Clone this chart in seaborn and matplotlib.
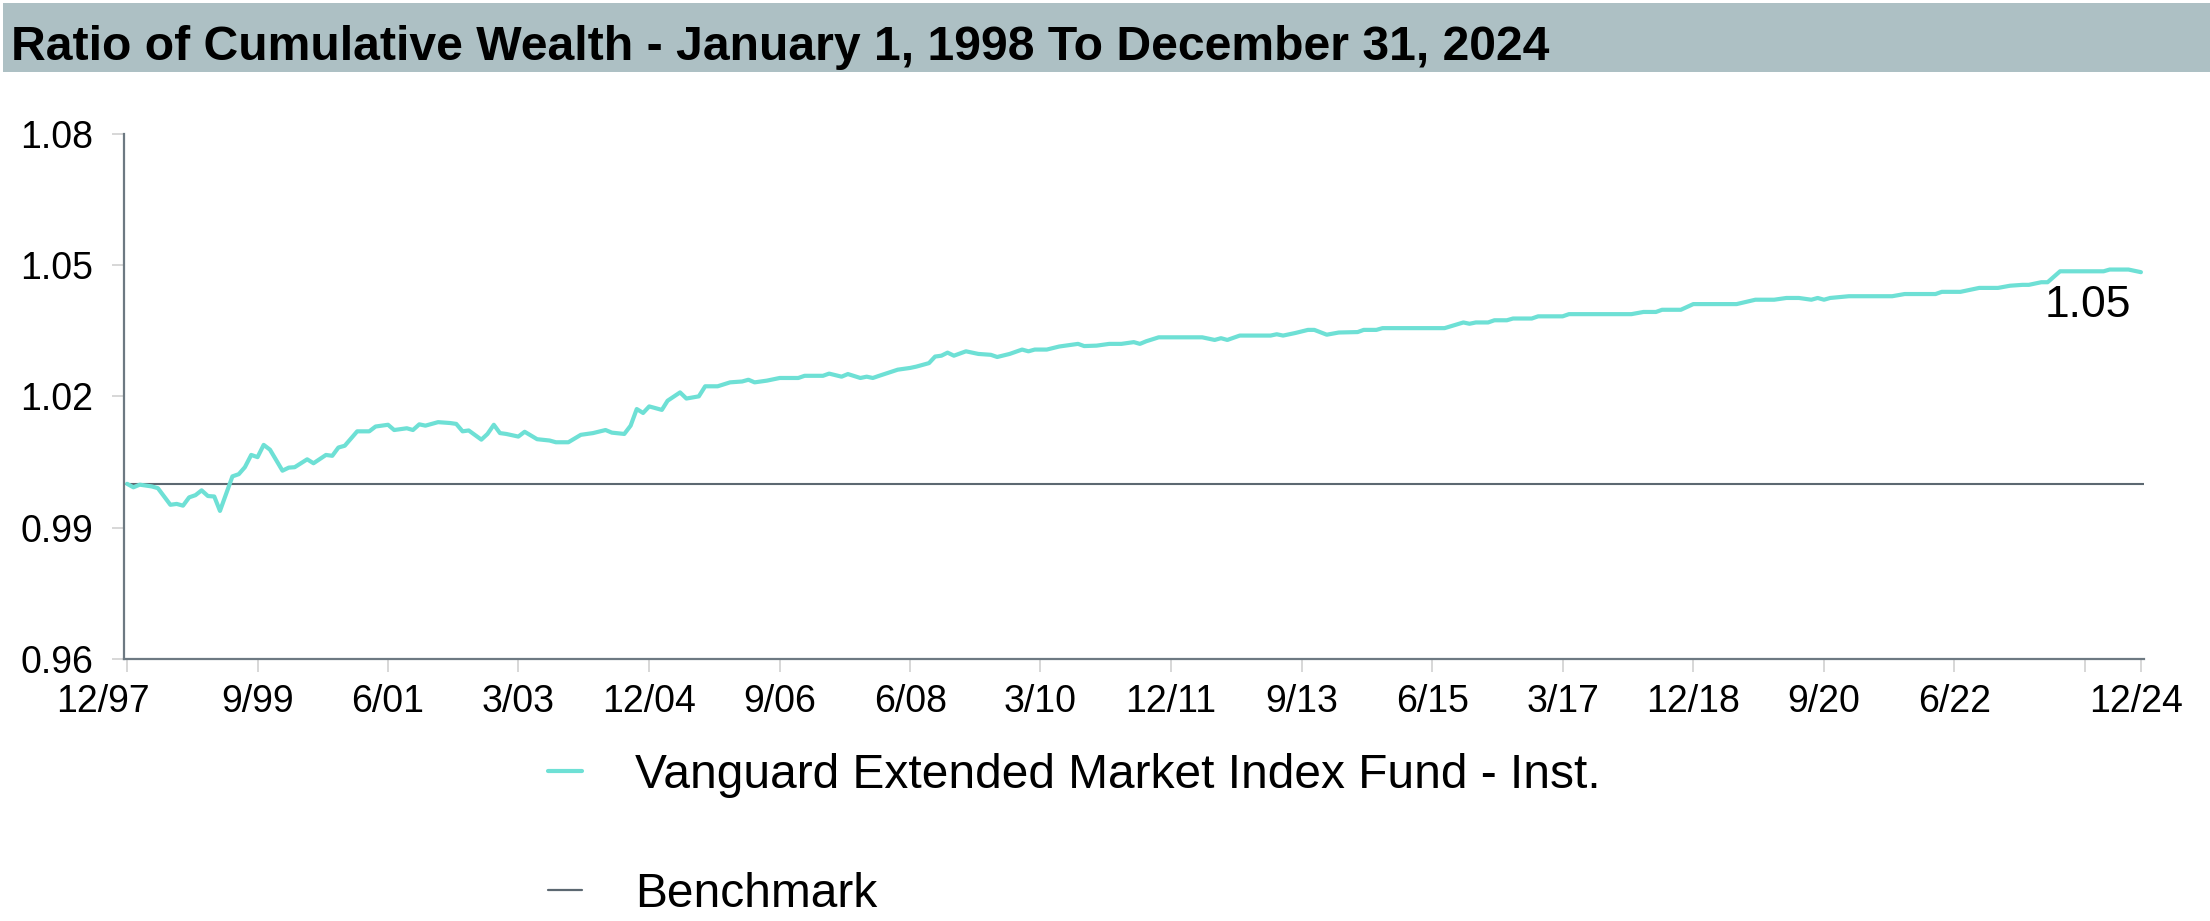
import matplotlib
matplotlib.use("Agg")
import matplotlib.pyplot as plt
from matplotlib.lines import Line2D
from matplotlib.patches import Rectangle
from matplotlib.transforms import ScaledTranslation
import pandas as pd
import seaborn as sns

# Ratio of fund cumulative wealth to benchmark cumulative wealth,
# sampled at month offsets counted from December 1997.
MONTH_OFFSET = [
    0, 1, 2, 4, 5, 7, 8, 9, 10, 11, 12, 13, 14, 15, 17, 18, 19, 20, 21, 22,
    23, 25, 26, 27, 29, 30, 32, 33, 34, 35, 37, 39, 40, 42, 43, 45, 46, 47, 48, 50,
    52, 53, 54, 55, 57, 58, 59, 60, 61, 63, 64, 66, 68, 69, 71, 73, 75, 77, 78, 80,
    81, 82, 83, 84, 86, 87, 89, 90, 92, 93, 95, 97, 99, 100, 101, 103, 105, 108, 109, 112,
    113, 115, 116, 118, 119, 120, 121, 124, 126, 127, 129, 130, 131, 132, 133, 135, 137, 139, 140, 142,
    144, 145, 146, 148, 150, 152, 153, 154, 156, 158, 160, 162, 163, 164, 166, 173, 175, 176, 177, 179,
    184, 185, 186, 188, 190, 191, 193, 195, 198, 199, 201, 202, 212, 215, 216, 217, 219, 220, 222, 223,
    226, 227, 231, 232, 242, 244, 246, 247, 250, 252, 259, 262, 265, 267, 269, 271, 272, 273, 274, 277,
    284, 286, 291, 292, 295, 298, 301, 303, 305, 306, 308, 309, 311, 318, 319, 322, 324,
]
FUND_RATIO = [
    1.0000, 0.9992, 0.9998, 0.9994, 0.9990, 0.9952, 0.9954, 0.9950, 0.9969, 0.9974,
    0.9985, 0.9972, 0.9971, 0.9938, 1.0017, 1.0022, 1.0038, 1.0066, 1.0061, 1.0089,
    1.0078, 1.0030, 1.0037, 1.0038, 1.0056, 1.0047, 1.0066, 1.0064, 1.0083, 1.0087,
    1.0120, 1.0120, 1.0131, 1.0135, 1.0123, 1.0127, 1.0123, 1.0136, 1.0133, 1.0141,
    1.0139, 1.0137, 1.0120, 1.0122, 1.0101, 1.0114, 1.0135, 1.0116, 1.0114, 1.0108,
    1.0119, 1.0102, 1.0099, 1.0095, 1.0095, 1.0112, 1.0116, 1.0123, 1.0117, 1.0114,
    1.0133, 1.0171, 1.0162, 1.0177, 1.0169, 1.0190, 1.0209, 1.0195, 1.0200, 1.0223,
    1.0223, 1.0232, 1.0234, 1.0238, 1.0232, 1.0236, 1.0242, 1.0242, 1.0247, 1.0247,
    1.0252, 1.0245, 1.0251, 1.0242, 1.0245, 1.0242, 1.0247, 1.0261, 1.0265, 1.0268,
    1.0276, 1.0291, 1.0293, 1.0300, 1.0293, 1.0303, 1.0297, 1.0295, 1.0290, 1.0297,
    1.0307, 1.0303, 1.0307, 1.0307, 1.0314, 1.0318, 1.0320, 1.0315, 1.0316, 1.0320,
    1.0320, 1.0324, 1.0320, 1.0326, 1.0335, 1.0335, 1.0329, 1.0333, 1.0329, 1.0339,
    1.0339, 1.0342, 1.0339, 1.0345, 1.0352, 1.0352, 1.0341, 1.0346, 1.0347, 1.0352,
    1.0352, 1.0356, 1.0356, 1.0369, 1.0366, 1.0369, 1.0369, 1.0374, 1.0374, 1.0378,
    1.0378, 1.0383, 1.0383, 1.0388, 1.0388, 1.0393, 1.0393, 1.0398, 1.0398, 1.0411,
    1.0411, 1.0421, 1.0421, 1.0425, 1.0425, 1.0421, 1.0425, 1.0421, 1.0425, 1.0429,
    1.0429, 1.0434, 1.0434, 1.0439, 1.0439, 1.0448, 1.0448, 1.0453, 1.0455, 1.0455,
    1.0461, 1.0461, 1.0486, 1.0486, 1.0490, 1.0490, 1.0484,
]
BENCHMARK_RATIO = 1.0

FUND_NAME = "Vanguard Extended Market Index Fund - Inst."
BENCHMARK_NAME = "Benchmark"
TITLE = "Ratio of Cumulative Wealth - January 1, 1998 To December 31, 2024"

XTICK_MONTHS = ["1997-12", "1999-09", "2001-06", "2003-03", "2004-12", "2006-09",
                "2008-06", "2010-03", "2011-12", "2013-09", "2015-06", "2017-03",
                "2018-12", "2020-09", "2022-06", "2024-03", "2024-12"]
XTICK_LABELS = ["12/97", "9/99", "6/01", "3/03", "12/04", "9/06", "6/08", "3/10",
                "12/11", "9/13", "6/15", "3/17", "12/18", "9/20", "6/22", "", "12/24"]
YTICKS = [0.96, 0.99, 1.02, 1.05, 1.08]

FUND_COLOR = "#6EE0D5"
BENCH_COLOR = "#5C6871"
SPINE_COLOR = "#6D7982"
TICK_COLOR = "#D4D4D4"
BAND_COLOR = "#ADC0C4"

sns.set_theme(style="white")
plt.rcParams["font.family"] = ["Liberation Sans", "DejaVu Sans"]
plt.rcParams["text.color"] = "black"

start = pd.Period("1997-12", freq="M")
df = pd.DataFrame({
    "date": [(start + m).to_timestamp() for m in MONTH_OFFSET],
    "ratio": FUND_RATIO,
})

W, H = 2210, 921
fig = plt.figure(figsize=(W / 100, H / 100), dpi=100)
fig.patch.set_facecolor("white")

# header band with title
fig.patches.append(Rectangle((3 / W, 1 - 72 / H), 1 - 3 / W, 69 / H,
                             transform=fig.transFigure, facecolor=BAND_COLOR,
                             edgecolor="none", zorder=0))
fig.text(11 / W, 1 - 60 / H, TITLE, fontsize=34.7, fontweight="bold",
         color="black", va="baseline", ha="left")

ax = fig.add_axes([124 / W, 1 - 658.7 / H, (2144 - 124) / W, (658.7 - 134) / H])

ax.axhline(BENCHMARK_RATIO, color=BENCH_COLOR, linewidth=1.5, zorder=2)
sns.lineplot(data=df, x="date", y="ratio", ax=ax, color=FUND_COLOR,
             linewidth=3.0, zorder=3, legend=False)

# label the final value of the fund line
last_x, last_y = df["date"].iloc[-1], df["ratio"].iloc[-1]
ax.annotate(f"{last_y:.2f}", xy=(last_x, last_y), xytext=(-10, -45),
            textcoords="offset pixels", ha="right", va="baseline",
            fontsize=32, color="black")

tick_dates = [pd.Period(s, freq="M").to_timestamp() for s in XTICK_MONTHS]
ax.set_xticks(tick_dates)
ax.set_xticklabels(XTICK_LABELS)
ax.set_xlim(tick_dates[0] - pd.Timedelta(days=15), tick_dates[-1] + pd.Timedelta(days=15))
ax.set_ylim(YTICKS[0], YTICKS[-1])
ax.set_yticks(YTICKS)
ax.set_yticklabels([f"{v:.2f}" for v in YTICKS])
ax.set_xlabel("")
ax.set_ylabel("")

for side in ("top", "right"):
    ax.spines[side].set_visible(False)
for side in ("left", "bottom"):
    ax.spines[side].set_color(SPINE_COLOR)
    ax.spines[side].set_linewidth(1.6)
ax.tick_params(axis="both", which="major", length=9, width=1.3, color=TICK_COLOR,
               labelsize=27, labelcolor="black")
ax.tick_params(axis="y", pad=13, left=True)
ax.tick_params(axis="x", pad=9, bottom=True)
ax.grid(False)

# first and last date labels sit a little left of their ticks
xlabels = ax.get_xticklabels()
xlabels[0].set_transform(xlabels[0].get_transform()
                         + ScaledTranslation(-24 / 100, 0, fig.dpi_scale_trans))
xlabels[-1].set_transform(xlabels[-1].get_transform()
                          + ScaledTranslation(-5 / 100, 0, fig.dpi_scale_trans))

handles = [Line2D([], [], color=FUND_COLOR, linewidth=3),
           Line2D([], [], color=BENCH_COLOR, linewidth=1.6)]
leg = fig.legend(handles, [FUND_NAME, BENCHMARK_NAME], loc="upper left",
                 bbox_to_anchor=(548 / W, 1 - 753 / H), frameon=False, fontsize=34.5,
                 handlelength=0.7, handletextpad=1.12, labelspacing=1.55,
                 borderpad=0, borderaxespad=0)
for t in leg.get_texts():
    t.set_color("black")

fig.savefig("out.png", dpi=100, facecolor="white")
